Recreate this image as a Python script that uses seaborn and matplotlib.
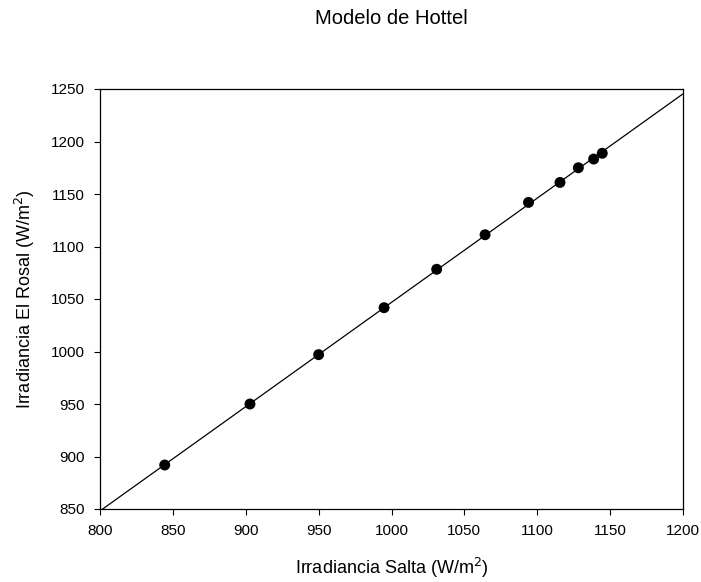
import matplotlib
matplotlib.use("Agg")
import matplotlib.pyplot as plt
import seaborn as sns
import numpy as np

# values
salta = [844.4, 902.9, 994.9, 950.0, 1031.0, 1064.2, 1094.0, 1115.6, 1128.2, 1138.7, 1144.6]
el_rosal = [891.9, 950.0, 1041.7, 997.0, 1078.3, 1111.2, 1142.0, 1161.0, 1175.0, 1183.3, 1188.8]

x_ticks = [800, 850, 900, 950, 1000, 1050, 1100, 1150, 1200]
y_ticks = [850, 900, 950, 1000, 1050, 1100, 1150, 1200, 1250]

sns.set_style("white")
plt.rcParams['font.family'] = ['Liberation Sans', 'DejaVu Sans']
plt.rcParams['text.color'] = 'black'
plt.rcParams['axes.labelcolor'] = 'black'

fig = plt.figure(figsize=(7.01, 5.82), dpi=100)
ax = fig.add_axes([100 / 701, 1 - 509 / 582, 583 / 701, 420 / 582])
ax.set_xlim(800, 1200)
ax.set_ylim(850, 1250)

sns.regplot(x=np.array(salta), y=np.array(el_rosal), ax=ax, ci=None, truncate=False,
            color='black',
            scatter_kws={'s': 62, 'color': 'black', 'edgecolors': 'none', 'alpha': 1, 'zorder': 3},
            line_kws={'color': 'black', 'linewidth': 0.9})

ax.set_xlim(800, 1200)
ax.set_ylim(850, 1250)
ax.set_xticks(x_ticks)
ax.set_yticks(y_ticks)
ax.tick_params(axis='both', direction='out', length=4, width=0.8, labelsize=11, pad=7,
               bottom=True, left=True, top=False, right=False, colors='black')
for s in ax.spines.values():
    s.set_color('black')
    s.set_linewidth(0.9)

ax.set_xlabel('Irradiancia Salta (W/m$^2$)', fontsize=13, labelpad=13)
ax.set_ylabel('Irradiancia El Rosal (W/m$^2$)', fontsize=13, labelpad=10)
fig.text(391 / 701, 1 - 18 / 582, 'Modelo de Hottel', ha='center', va='center', fontsize=14.5)

fig.savefig('out.png', dpi=100)
